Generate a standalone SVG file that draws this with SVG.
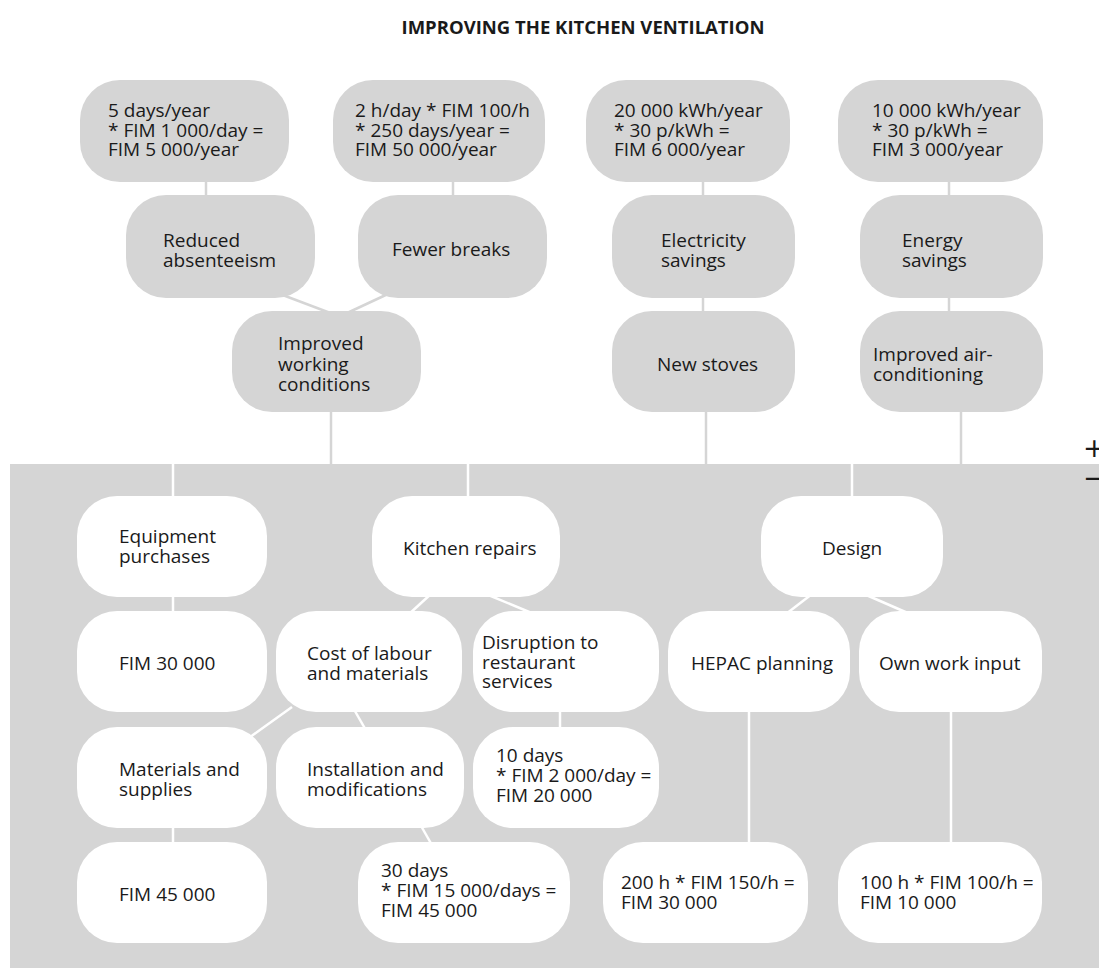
<svg xmlns="http://www.w3.org/2000/svg" width="1099" height="968" viewBox="0 0 1099 968">
  <style>
    text { font-family: "Open Sans", "Liberation Sans", sans-serif; font-size: 19px; fill: #1a1a1a; }
    .title { font-weight: bold; font-size: 18.5px; text-anchor: middle; }
    .sign { font-family: "DejaVu Sans", sans-serif; font-size: 27px; }
    .benefit { fill: #d5d5d5; }
    .cost { fill: #ffffff; }
    .link-top line { stroke: #d5d5d5; stroke-width: 2.5; }
    .link-cost line { stroke: #ffffff; stroke-width: 2.5; }
  </style>

  <text class="title" x="583" y="34">IMPROVING THE KITCHEN VENTILATION</text>

  <!-- cost zone background -->
  <rect id="cost-zone" x="10" y="464" width="1089" height="504" fill="#d5d5d5"/>
  <text class="sign" x="1083" y="457">+</text>
  <text class="sign" x="1083" y="487">−</text>

  <!-- connectors -->
  <g id="connectors">
    <g class="link-top">
      <line x1="206" y1="180" x2="206" y2="197"/>
      <line x1="453" y1="180" x2="453" y2="197"/>
      <line x1="703" y1="180" x2="703" y2="197"/>
      <line x1="949" y1="180" x2="949" y2="197"/>
      <line x1="280" y1="294" x2="333" y2="314"/>
      <line x1="390" y1="293" x2="345" y2="314"/>
      <line x1="703" y1="296" x2="703" y2="313"/>
      <line x1="949" y1="296" x2="949" y2="313"/>
      <line x1="331" y1="410" x2="331" y2="464"/>
      <line x1="706" y1="410" x2="706" y2="464"/>
      <line x1="961" y1="410" x2="961" y2="464"/>
    </g>
    <g class="link-cost">
      <line x1="173" y1="464" x2="173" y2="498"/>
      <line x1="468" y1="464" x2="468" y2="498"/>
      <line x1="852" y1="464" x2="852" y2="498"/>
      <line x1="173" y1="595" x2="173" y2="613"/>
      <line x1="432" y1="593" x2="408" y2="615"/>
      <line x1="486" y1="594" x2="534" y2="614"/>
      <line x1="812" y1="594" x2="786" y2="614"/>
      <line x1="864" y1="594" x2="910" y2="614"/>
      <line x1="292" y1="707" x2="246" y2="740"/>
      <line x1="352" y1="706" x2="367" y2="732"/>
      <line x1="560" y1="710" x2="560" y2="729"/>
      <line x1="173" y1="826" x2="173" y2="844"/>
      <line x1="420" y1="824" x2="433" y2="847"/>
      <line x1="749" y1="710" x2="749" y2="844"/>
      <line x1="951" y1="710" x2="951" y2="844"/>
    </g>
  </g>

  <!-- benefit nodes -->
  <g id="n-absence-cost">
    <rect class="benefit" x="80" y="80" width="209" height="102" rx="40"/>
    <text x="108" y="117">5 days/year<tspan x="108" dy="19.5">* FIM 1 000/day =</tspan><tspan x="108" dy="19.5">FIM 5 000/year</tspan></text>
  </g>
  <g id="n-breaks-cost">
    <rect class="benefit" x="333" y="80" width="212" height="102" rx="40"/>
    <text x="355" y="117">2 h/day * FIM 100/h<tspan x="355" dy="19.5">* 250 days/year =</tspan><tspan x="355" dy="19.5">FIM 50 000/year</tspan></text>
  </g>
  <g id="n-electricity-cost">
    <rect class="benefit" x="586" y="80" width="204" height="102" rx="40"/>
    <text x="614" y="117">20 000 kWh/year<tspan x="614" dy="19.5">* 30 p/kWh =</tspan><tspan x="614" dy="19.5">FIM 6 000/year</tspan></text>
  </g>
  <g id="n-energy-cost">
    <rect class="benefit" x="838" y="80" width="205" height="102" rx="40"/>
    <text x="872" y="117">10 000 kWh/year<tspan x="872" dy="19.5">* 30 p/kWh =</tspan><tspan x="872" dy="19.5">FIM 3 000/year</tspan></text>
  </g>
  <g id="n-absenteeism">
    <rect class="benefit" x="126" y="195" width="189" height="103" rx="40"/>
    <text x="163" y="247">Reduced<tspan x="163" dy="20">absenteeism</tspan></text>
  </g>
  <g id="n-breaks">
    <rect class="benefit" x="358" y="195" width="189" height="103" rx="40"/>
    <text x="392" y="256">Fewer breaks</text>
  </g>
  <g id="n-electricity">
    <rect class="benefit" x="612" y="195" width="183" height="103" rx="40"/>
    <text x="661" y="247">Electricity<tspan x="661" dy="20">savings</tspan></text>
  </g>
  <g id="n-energy">
    <rect class="benefit" x="860" y="195" width="183" height="103" rx="40"/>
    <text x="902" y="247">Energy<tspan x="902" dy="20">savings</tspan></text>
  </g>
  <g id="n-working-conditions">
    <rect class="benefit" x="232" y="311" width="189" height="101" rx="40"/>
    <text x="278" y="350">Improved<tspan x="278" dy="20.5">working</tspan><tspan x="278" dy="20.5">conditions</tspan></text>
  </g>
  <g id="n-stoves">
    <rect class="benefit" x="612" y="311" width="183" height="101" rx="40"/>
    <text x="657" y="371">New stoves</text>
  </g>
  <g id="n-air-conditioning">
    <rect class="benefit" x="860" y="311" width="183" height="101" rx="40"/>
    <text x="873" y="361">Improved air-<tspan x="873" dy="20">conditioning</tspan></text>
  </g>

  <!-- cost nodes -->
  <g id="n-equipment">
    <rect class="cost" x="77" y="496" width="190" height="101" rx="40"/>
    <text x="119" y="543">Equipment<tspan x="119" dy="20">purchases</tspan></text>
  </g>
  <g id="n-kitchen-repairs">
    <rect class="cost" x="372" y="496" width="188" height="101" rx="40"/>
    <text x="403" y="555">Kitchen repairs</text>
  </g>
  <g id="n-design">
    <rect class="cost" x="761" y="496" width="182" height="101" rx="40"/>
    <text x="822" y="555">Design</text>
  </g>
  <g id="n-equipment-cost">
    <rect class="cost" x="77" y="611" width="190" height="101" rx="40"/>
    <text x="119" y="670">FIM 30 000</text>
  </g>
  <g id="n-labour-materials">
    <rect class="cost" x="276" y="611" width="186" height="101" rx="40"/>
    <text x="307" y="660">Cost of labour<tspan x="307" dy="20">and materials</tspan></text>
  </g>
  <g id="n-disruption">
    <rect class="cost" x="473" y="611" width="186" height="101" rx="40"/>
    <text x="482" y="649">Disruption to<tspan x="482" dy="19.5">restaurant</tspan><tspan x="482" dy="19.5">services</tspan></text>
  </g>
  <g id="n-hepac">
    <rect class="cost" x="668" y="611" width="182" height="101" rx="40"/>
    <text x="691" y="670">HEPAC planning</text>
  </g>
  <g id="n-own-work">
    <rect class="cost" x="859" y="611" width="183" height="101" rx="40"/>
    <text x="879" y="670">Own work input</text>
  </g>
  <g id="n-materials">
    <rect class="cost" x="77" y="727" width="190" height="101" rx="40"/>
    <text x="119" y="776">Materials and<tspan x="119" dy="20">supplies</tspan></text>
  </g>
  <g id="n-installation">
    <rect class="cost" x="276" y="727" width="188" height="101" rx="40"/>
    <text x="307" y="776">Installation and<tspan x="307" dy="20">modifications</tspan></text>
  </g>
  <g id="n-disruption-cost">
    <rect class="cost" x="473" y="727" width="186" height="101" rx="40"/>
    <text x="496" y="762">10 days<tspan x="496" dy="20">* FIM 2 000/day =</tspan><tspan x="496" dy="20">FIM 20 000</tspan></text>
  </g>
  <g id="n-materials-cost">
    <rect class="cost" x="77" y="842" width="190" height="101" rx="40"/>
    <text x="119" y="901">FIM 45 000</text>
  </g>
  <g id="n-installation-cost">
    <rect class="cost" x="358" y="842" width="212" height="101" rx="40"/>
    <text x="381" y="877">30 days<tspan x="381" dy="20">* FIM 15 000/days =</tspan><tspan x="381" dy="20">FIM 45 000</tspan></text>
  </g>
  <g id="n-hepac-cost">
    <rect class="cost" x="603" y="842" width="205" height="101" rx="40"/>
    <text x="621" y="889">200 h * FIM 150/h =<tspan x="621" dy="20">FIM 30 000</tspan></text>
  </g>
  <g id="n-own-work-cost">
    <rect class="cost" x="838" y="842" width="204" height="101" rx="40"/>
    <text x="860" y="889">100 h * FIM 100/h =<tspan x="860" dy="20">FIM 10 000</tspan></text>
  </g>
</svg>
